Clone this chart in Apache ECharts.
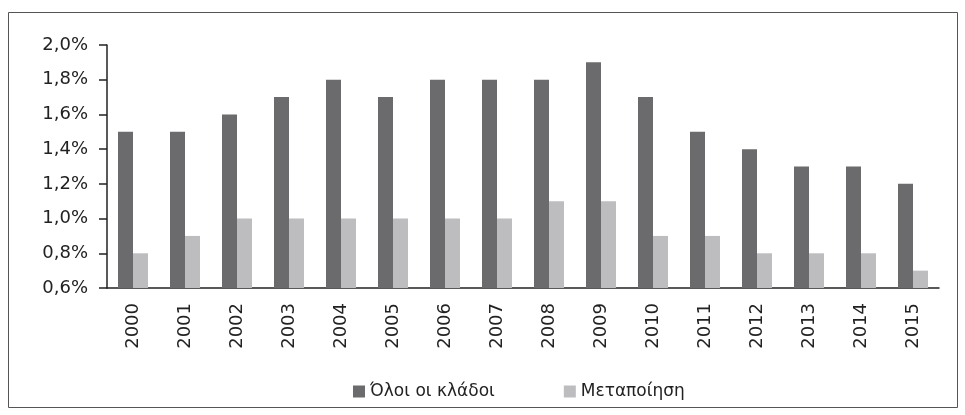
<!DOCTYPE html>
<html style="height: 100%">
<head>
<meta charset="utf-8">
</head>
<body style="height: 100%; margin: 0; background: #fff">
<div id="container" style="width: 965px; height: 415px"></div>
<script src="https://cdn.jsdelivr.net/npm/echarts@6/dist/echarts.min.js"></script>
<script>
var years = ['2000', '2001', '2002', '2003', '2004', '2005', '2006', '2007',
             '2008', '2009', '2010', '2011', '2012', '2013', '2014', '2015'];
var allSectors = [1.5, 1.5, 1.6, 1.7, 1.8, 1.7, 1.8, 1.8, 1.8, 1.9, 1.7, 1.5, 1.4, 1.3, 1.3, 1.2];
var manufacturing = [0.8, 0.9, 1.0, 1.0, 1.0, 1.0, 1.0, 1.0, 1.1, 1.1, 0.9, 0.9, 0.8, 0.8, 0.8, 0.7];
var seriesNames = ['Όλοι οι κλάδοι', 'Μεταποίηση'];

var font = 'DejaVu Sans';
var myChart = echarts.init(document.getElementById('container'));

var option = {
    backgroundColor: '#fff',
    animation: false,
    textStyle: { fontFamily: font, color: '#222' },
    graphic: [{
        type: 'rect',
        shape: { x: 8.5, y: 12.5, width: 949, height: 395 },
        style: { fill: 'none', stroke: '#555', lineWidth: 1 },
        silent: true
    }],
    grid: { left: 107, right: 26, top: 45, bottom: 127 },
    legend: {
        data: seriesNames,
        left: 348,
        top: 378,
        itemWidth: 12,
        itemHeight: 12,
        itemGap: 69,
        icon: 'rect',
        textStyle: { fontFamily: font, fontSize: 17, color: '#222' }
    },
    xAxis: {
        type: 'category',
        data: years,
        axisLine: { lineStyle: { color: '#222', width: 1.5 } },
        axisTick: { length: 6, lineStyle: { color: '#222', width: 1.5 } },
        axisLabel: { rotate: 90, margin: 15, fontSize: 18, color: '#222', fontFamily: font }
    },
    yAxis: {
        type: 'value',
        min: 0.6,
        max: 2.0,
        interval: 0.2,
        splitLine: { show: false },
        axisLine: { show: true, lineStyle: { color: '#222', width: 1.5 } },
        axisTick: { show: true, length: 8, lineStyle: { color: '#222', width: 1.5 } },
        axisLabel: {
            margin: 19,
            fontSize: 18,
            color: '#222',
            fontFamily: font,
            formatter: function (v) { return v.toFixed(1).replace('.', ',') + '%'; }
        }
    },
    series: [
        {
            name: seriesNames[0],
            type: 'bar',
            data: allSectors,
            barWidth: 15,
            barGap: '0%',
            itemStyle: { color: '#6b6b6d' }
        },
        {
            name: seriesNames[1],
            type: 'bar',
            data: manufacturing,
            barWidth: 15,
            itemStyle: { color: '#bdbdc0' }
        }
    ]
};

myChart.setOption(option, true);
</script>
</body>
</html>
